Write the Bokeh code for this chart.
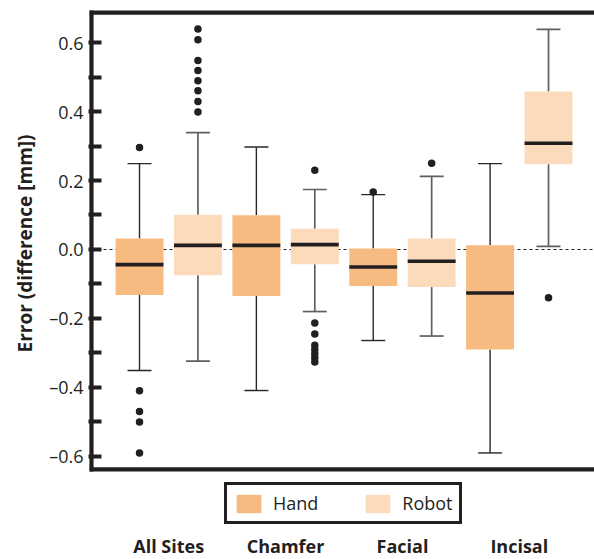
from bokeh.plotting import figure
from bokeh.models import (ColumnDataSource, LinearAxis, FixedTicker, Legend, LegendItem,
                          Range1d, Title)
from bokeh.core.properties import value
from bokeh.embed import file_html
from bokeh.resources import INLINE

# ---- data ----
groups = ["All Sites", "Chamfer", "Facial", "Incisal"]
methods = ["Hand", "Robot"]

hand_q1 = [-0.132, -0.135, -0.106, -0.290]
hand_med = [-0.044, 0.012, -0.051, -0.126]
hand_q3 = [0.032, 0.099, 0.003, 0.012]
hand_lo = [-0.351, -0.409, -0.264, -0.590]
hand_hi = [0.249, 0.297, 0.159, 0.249]
hand_out = [[0.296, -0.410, -0.470, -0.500, -0.590], [], [0.167], []]

robot_q1 = [-0.075, -0.043, -0.109, 0.247]
robot_med = [0.012, 0.014, -0.034, 0.308]
robot_q3 = [0.101, 0.060, 0.032, 0.458]
robot_lo = [-0.324, -0.180, -0.251, 0.009]
robot_hi = [0.339, 0.174, 0.212, 0.638]
robot_out = [[0.639, 0.608, 0.548, 0.519, 0.489, 0.460, 0.429, 0.399],
             [0.230, -0.213, -0.245, -0.278, -0.290, -0.302, -0.314, -0.326],
             [0.250], [-0.140]]

y_major = [-0.6, -0.4, -0.2, 0.0, 0.2, 0.4, 0.6]
y_minor = [-0.5, -0.3, -0.1, 0.1, 0.3, 0.5]
y_labels = ["\u20130.6", "\u20130.4", "\u20130.2", "0.0", "0.2", "0.4", "0.6"]
y_title = "Error (difference [mm])"

colors = {"Hand": "#f7bb82", "Robot": "#fcdbbc"}
whisker_colors = {"Hand": "#2a2627", "Robot": "#5f5f5f"}
whisker_widths = {"Hand": 1.4, "Robot": 1.7}
dark = "#231f20"
FONT = "Open Sans"

# ---- layout: frame spans the area below the axes box too (legend + group labels) ----
W, H = 594, 559
LEFT = 88
X0, X1 = -0.873, 7.787          # data x at frame left / right
Y0, Y1 = -0.899, 0.722          # data y at frame bottom / top
BOX_TOP, BOX_BOTTOM = 0.687, -0.6377   # the drawn axes box (top / bottom lines)
BOX_LEFT = -0.822
LABEL_Y = -0.860

p = figure(width=W, height=H, output_backend="svg", toolbar_location=None,
           x_range=Range1d(X0, X1), y_range=Range1d(Y0, Y1),
           x_axis_location=None, y_axis_location=None,
           min_border_left=LEFT, min_border_right=0, min_border_top=0, min_border_bottom=0)
p.outline_line_color = None
p.xgrid.visible = False
p.ygrid.visible = False
p.background_fill_color = "white"
p.border_fill_color = "white"

# zero reference line
p.segment(x0=[BOX_LEFT], y0=[0], x1=[X1], y1=[0], line_color=dark, line_width=1.2, line_dash="3 3")

bw = 0.82
capw = 0.41
legend_items = []
data = {
    "Hand": (hand_q1, hand_med, hand_q3, hand_lo, hand_hi, hand_out),
    "Robot": (robot_q1, robot_med, robot_q3, robot_lo, robot_hi, robot_out),
}
for mi, m in enumerate(methods):
    q1, med, q3, lo, hi, outs = data[m]
    xs = [2 * g + mi for g in range(len(groups))]
    src = ColumnDataSource(dict(
        x=xs, q1=q1, med=med, q3=q3, lo=lo, hi=hi,
        bl=[x - bw / 2 for x in xs], br=[x + bw / 2 for x in xs],
        cl=[x - capw / 2 for x in xs], cr=[x + capw / 2 for x in xs]))
    wc, ww = whisker_colors[m], whisker_widths[m]
    # whiskers and caps
    p.segment(x0="x", y0="q3", x1="x", y1="hi", source=src, line_color=wc, line_width=ww)
    p.segment(x0="x", y0="lo", x1="x", y1="q1", source=src, line_color=wc, line_width=ww)
    p.segment(x0="cl", y0="hi", x1="cr", y1="hi", source=src, line_color=wc, line_width=ww)
    p.segment(x0="cl", y0="lo", x1="cr", y1="lo", source=src, line_color=wc, line_width=ww)
    # boxes
    r = p.vbar(x="x", bottom="q1", top="q3", width=bw, source=src, fill_color=colors[m], line_color=None)
    legend_items.append(LegendItem(label=m, renderers=[r]))
    # medians
    p.segment(x0="bl", y0="med", x1="br", y1="med", source=src, line_color=dark, line_width=3.6)
    # outliers
    ox, oy = [], []
    for g, vals in enumerate(outs):
        ox += [2 * g + mi] * len(vals)
        oy += vals
    p.scatter(ox, oy, size=7.5, fill_color=dark, line_color=None)

# axes box lines (left, top, bottom)
p.segment(x0=[BOX_LEFT, BOX_LEFT - 0.03, BOX_LEFT - 0.03],
          y0=[BOX_BOTTOM - 0.006, BOX_TOP, BOX_BOTTOM],
          x1=[BOX_LEFT, X1, X1],
          y1=[BOX_TOP + 0.006, BOX_TOP, BOX_BOTTOM],
          line_color=dark, line_width=4.2)

# left axis: ticks and labels only (its line is drawn above)
yax = LinearAxis(ticker=FixedTicker(ticks=y_major, minor_ticks=y_minor))
yax.major_label_overrides = {v: s for v, s in zip(y_major, y_labels)}
yax.major_label_text_font = FONT
yax.major_label_text_font_size = "18px"
yax.major_label_text_color = dark
yax.major_label_standoff = 5
yax.major_tick_in = 13
yax.major_tick_out = 0
yax.minor_tick_in = 13
yax.minor_tick_out = 0
yax.major_tick_line_width = 4
yax.minor_tick_line_width = 4
yax.major_tick_line_color = dark
yax.minor_tick_line_color = dark
yax.axis_line_color = None
p.add_layout(yax, "left")

# y-axis title, centred on the axes box rather than on the whole frame
ytitle = Title(text=y_title, align="left", offset=207, standoff=17,
               text_font=FONT, text_font_style="bold", text_font_size="19px",
               text_color=dark)
p.add_layout(ytitle, "left")

legend = Legend(items=legend_items, orientation="horizontal", location=(136, 35))
legend.label_text_font = FONT
legend.label_text_font_size = "18px"
legend.label_text_color = dark
legend.glyph_width = 31
legend.glyph_height = 23
legend.label_height = 23
legend.label_standoff = 9
legend.spacing = 44
legend.padding = 6
legend.margin = 0
legend.border_line_color = dark
legend.border_line_alpha = 1.0
legend.border_line_width = 3
legend.background_fill_alpha = 1
p.add_layout(legend, "center")

# group labels under the legend
group_centers = [2 * g + 0.5 for g in range(len(groups))]
p.text(x=group_centers, y=[LABEL_Y] * len(groups), text=groups,
       text_font=value(FONT), text_font_style="bold", text_font_size="18px",
       text_color=dark, text_align="center", text_baseline="alphabetic")

open("out.html", "w").write(file_html(p, INLINE))
